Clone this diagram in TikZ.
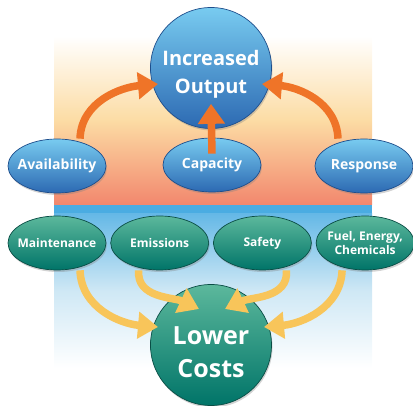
\documentclass[tikz,border=0pt]{standalone}
\usepackage{fontspec}
\setmainfont{Open Sans}
\usetikzlibrary{shapes.geometric,arrows.meta,shadows,positioning}

\definecolor{bluetop}{HTML}{78CBF0}
\definecolor{bluebot}{HTML}{2C69B2}
\definecolor{blueedge}{HTML}{1E4E8C}
\definecolor{greentop}{HTML}{5CB89C}
\definecolor{greenbot}{HTML}{007468}
\definecolor{greenedge}{HTML}{0A4D45}
\definecolor{orangearr}{HTML}{EF7428}
\definecolor{yellowarr}{HTML}{F8C55A}
\definecolor{warmmid}{HTML}{FCDCA4}
\definecolor{salmon}{HTML}{F2876D}
\definecolor{stripe}{HTML}{4AACE2}
\definecolor{palesky}{HTML}{CFE8F5}

\begin{document}
\begin{tikzpicture}[
    x=1pt, y=-1pt,
    bigcircle/.style={circle, minimum size=121pt, inner sep=0pt, text=white,
        draw=#1edge, line width=0.7pt, top color=#1top, bottom color=#1bot,
        drop shadow={opacity=0.35, shadow xshift=1pt, shadow yshift=-2pt}},
    oval/.style={ellipse, minimum width=98pt, minimum height=54pt, inner sep=-6pt, align=center, text=white,
        draw=#1edge, line width=0.7pt, top color=#1top, bottom color=#1bot,
        drop shadow={opacity=0.35, shadow xshift=1pt, shadow yshift=-2pt}},
    outputword/.style={font=\fontsize{20}{28}\selectfont\bfseries, text=white, align=center, yshift=-6pt},
    costword/.style={font=\fontsize{25}{33}\selectfont\bfseries, text=white, align=center, yshift=-7pt},
    blueword/.style={font=\fontsize{14}{16}\selectfont\bfseries},
    greenword/.style={font=\fontsize{12}{14}\selectfont\bfseries},
    pusharrow/.style={-{Triangle[width=26pt, length=20pt]}, line width=7.5pt, draw=#1}
]
    \useasboundingbox (0,0) rectangle (413,406);

    % Backdrop panels
    \shade[top color=white, bottom color=salmon, middle color=warmmid] (54,36) rectangle (372,205);
    \fill[stripe] (54,205) rectangle (372,214);
    \shade[top color=stripe!85, bottom color=white, middle color=palesky] (54,214) rectangle (372,368);

    % Output side
    \node[bigcircle=blue, label={[outputword]center:Increased\\Output}] (output) at (211,68) {};
    \node[oval=blue, blueword] (avail) at (57,166) {Availability};
    \node[oval=blue, blueword] (capacity) at (212,165) {Capacity};
    \node[oval=blue, blueword] (response) at (364,166) {Response};

    % Cost side
    \node[oval=green, greenword] (maint) at (57,243) {Maintenance};
    \node[oval=green, greenword, right=4pt of maint] (emiss) {Emissions};
    \node[oval=green, greenword, right=4pt of emiss] (safety) {Safety};
    \node[oval=green, greenword, right=4pt of safety] (fuel) {Fuel, Energy,\\Chemicals};
    \node[bigcircle=green, label={[costword]center:Lower\\Costs}] (lower) at (211,345) {};

    % Orange arrows into output
    \draw[pusharrow=orangearr] ([xshift=23pt]avail.north) to[out=88, in=185] ([xshift=-53pt, yshift=-16pt]output.center);
    \draw[pusharrow=orangearr] ([xshift=-26pt]response.north) to[out=92, in=-5] ([xshift=51pt, yshift=-16pt]output.center);
    \draw[pusharrow=orangearr] ([yshift=-16pt]capacity.north) -- ([yshift=25pt]output.south);

    % Yellow arrows into lower costs
    \draw[pusharrow=yellowarr] ([xshift=23pt]maint.south) to[out=-88, in=175] ([xshift=-53pt, yshift=18pt]lower.center);
    \draw[pusharrow=yellowarr] ([xshift=-21pt]emiss.south) to[out=-95, in=155] ([xshift=-12pt, yshift=36pt]lower.center);
    \draw[pusharrow=yellowarr] ([xshift=24pt]safety.south) to[out=-85, in=25] ([xshift=14pt, yshift=36pt]lower.center);
    \draw[pusharrow=yellowarr] ([xshift=-23pt]fuel.south) to[out=-92, in=5] ([xshift=53pt, yshift=18pt]lower.center);
\end{tikzpicture}
\end{document}
